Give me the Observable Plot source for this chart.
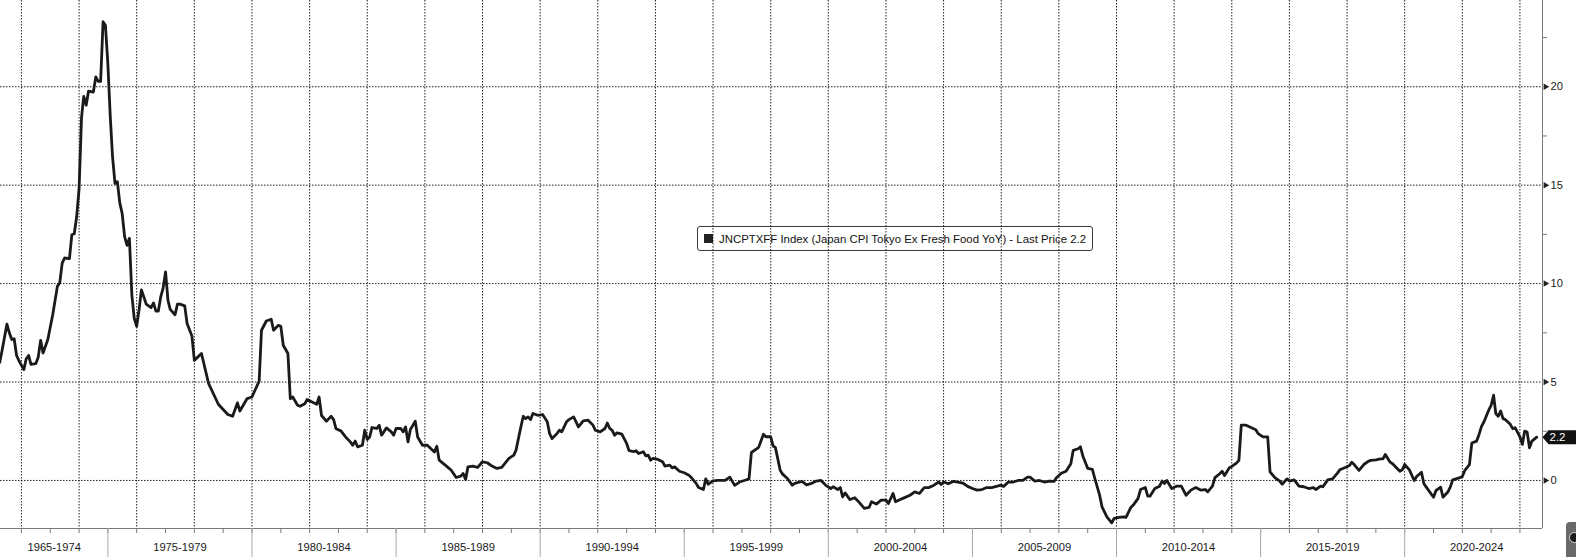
<!DOCTYPE html>
<html>
<head>
<meta charset="utf-8">
<script src="https://cdn.jsdelivr.net/npm/d3@7"></script>
<script src="https://cdn.jsdelivr.net/npm/@observablehq/plot@0.6"></script>
<style>
  html, body { margin: 0; padding: 0; background: #fff; }
  #wrap { position: relative; width: 1576px; height: 557px; overflow: hidden; font-family: "Liberation Sans", Arial, sans-serif; }
  #legend { position: absolute; left: 697px; top: 226px; width: 396px; height: 25px; box-sizing: border-box;
            border: 1px solid #3a3a3a; border-radius: 3px; display: flex; align-items: center;
            font-size: 11.4px; color: #111; white-space: nowrap; }
  #legend .sw { width: 9px; height: 9px; background: #222; margin: 0 6px 0 6px; flex: none; }
  #icon { position: absolute; left: 1566px; top: 522px; width: 16px; height: 40px; background: #6a6a6a; border-radius: 4px; }
  #icon::after { content: ""; position: absolute; left: 3px; top: 10px; width: 9px; height: 9px; border-radius: 50%; background: #1c1c1c; border: 1px solid #ddd; }
</style>
</head>
<body>
<div id="wrap"></div>
<script>
// ---- data: Japan CPI Tokyo ex fresh food, YoY % (monthly observations) ----
const months = [
  "1971-03","1971-04","1971-06","1971-07","1971-08","1971-09","1971-10","1971-11",
  "1972-01","1972-02","1972-03","1972-04","1972-06","1972-07","1972-08","1972-09","1972-11","1972-12",
  "1973-01","1973-03","1973-04","1973-05","1973-06","1973-08","1973-09","1973-10","1973-11","1973-12",
  "1974-01","1974-02","1974-03","1974-04","1974-06","1974-07","1974-08","1974-09","1974-10","1974-11","1974-12",
  "1975-01","1975-02","1975-03","1975-04","1975-05","1975-06","1975-07","1975-08","1975-09","1975-10","1975-11","1975-12",
  "1976-01","1976-02","1976-03","1976-04","1976-06","1976-07","1976-08","1976-09","1976-10","1976-11","1976-12",
  "1977-01","1977-02","1977-04","1977-05","1977-06","1977-08","1977-09","1977-11","1977-12",
  "1978-03","1978-06","1978-10",
  "1979-02","1979-04","1979-06","1979-07","1979-10","1979-12",
  "1980-03","1980-04","1980-06","1980-08","1980-09","1980-11","1980-12",
  "1981-01","1981-03","1981-04","1981-05","1981-07","1981-08","1981-10","1981-11",
  "1982-01","1982-03","1982-04","1982-05","1982-07","1982-09","1982-10","1982-11",
  "1983-01","1983-03","1983-05","1983-06","1983-07","1983-08","1983-10","1983-11","1983-12",
  "1984-01","1984-02","1984-04","1984-05","1984-06","1984-08","1984-10","1984-11","1984-12",
  "1985-02","1985-03","1985-04","1985-05","1985-06","1985-07","1985-08","1985-09","1985-11",
  "1986-01","1986-04","1986-05","1986-06","1986-09","1986-11",
  "1987-01","1987-03","1987-04","1987-05","1987-06","1987-08","1987-10","1987-12",
  "1988-02","1988-04","1988-06","1988-08","1988-11",
  "1989-01","1989-02","1989-04","1989-05","1989-06","1989-07","1989-08","1989-09","1989-11",
  "1990-01","1990-03","1990-04","1990-05","1990-07","1990-08","1990-09","1990-11","1990-12",
  "1991-02","1991-03","1991-04","1991-06","1991-08","1991-10","1991-11",
  "1992-01","1992-03","1992-04","1992-05","1992-06","1992-07","1992-08","1992-10","1992-12",
  "1993-01","1993-03","1993-04","1993-05","1993-07","1993-08","1993-09","1993-10","1993-11",
  "1994-01","1994-03","1994-04","1994-06","1994-07","1994-08","1994-10","1994-12",
  "1995-02","1995-03","1995-05","1995-06","1995-08","1995-09","1995-10","1995-12",
  "1996-02","1996-05","1996-07","1996-09","1996-11",
  "1997-01","1997-03","1997-04","1997-06","1997-07","1997-09","1997-10","1997-11","1997-12",
  "1998-01","1998-02","1998-04","1998-05","1998-07","1998-09","1998-10",
  "1999-01","1999-03","1999-05","1999-07","1999-09","1999-11",
  "2000-01","2000-02","2000-04","2000-05","2000-06","2000-07","2000-09","2000-11",
  "2001-01","2001-03","2001-05","2001-06","2001-08","2001-10","2001-12",
  "2002-01","2002-03","2002-04","2002-06","2002-08","2002-10","2002-12",
  "2003-02","2003-04","2003-06","2003-08","2003-10","2003-11","2003-12",
  "2004-02","2004-04","2004-06","2004-08","2004-10","2004-12",
  "2005-02","2005-04","2005-06","2005-08","2005-10","2005-12",
  "2006-01","2006-03","2006-05","2006-07","2006-09","2006-11","2006-12",
  "2007-02","2007-04","2007-06","2007-08","2007-10","2007-11",
  "2008-01","2008-03","2008-05","2008-06","2008-08","2008-09","2008-10","2008-12",
  "2009-02","2009-03","2009-05","2009-06","2009-08","2009-10","2009-11",
  "2010-01","2010-03","2010-04","2010-06","2010-07","2010-09","2010-10","2010-12",
  "2011-01","2011-02","2011-04","2011-06","2011-07","2011-08","2011-09","2011-11",
  "2012-01","2012-03","2012-05","2012-07","2012-09","2012-11",
  "2013-01","2013-02","2013-04","2013-05","2013-07","2013-08","2013-09","2013-11","2013-12",
  "2014-02","2014-03","2014-04","2014-06","2014-08","2014-10","2014-11",
  "2015-01","2015-03","2015-04","2015-06","2015-08","2015-09","2015-11","2015-12",
  "2016-02","2016-04","2016-06","2016-08","2016-10","2016-11",
  "2017-01","2017-02","2017-04","2017-06","2017-08","2017-09","2017-11",
  "2018-01","2018-02","2018-03","2018-05","2018-07","2018-09","2018-10","2018-12",
  "2019-02","2019-03","2019-04","2019-06","2019-07","2019-10","2019-11","2019-12",
  "2020-02","2020-04","2020-05","2020-07","2020-08","2020-09","2020-12",
  "2021-01","2021-03","2021-04","2021-06","2021-07","2021-08","2021-11","2021-12",
  "2022-01","2022-03","2022-04","2022-06","2022-07","2022-08","2022-09","2022-11","2022-12",
  "2023-01","2023-02","2023-03","2023-04","2023-05","2023-06","2023-08","2023-09","2023-10","2023-12",
  "2024-01","2024-02","2024-03","2024-04","2024-05","2024-07"
];
const cpi = [
  5.99,6.6,7.94,7.5,7.16,7.2,6.35,6.08,
  5.63,6.17,6.35,5.9,5.93,6.26,7.12,6.47,7.16,7.79,
  8.42,9.86,10.04,11.04,11.3,11.27,12.48,12.53,13.38,14.82,
  18.43,19.51,19.06,19.78,19.73,20.5,20.27,20.27,23.3,23.12,21.14,
  18.43,16.45,15.09,15.18,14.1,13.56,12.39,11.94,12.3,9.41,8.24,7.83,
  8.69,9.68,9.32,8.96,8.78,9.02,8.6,8.6,9.32,9.77,10.59,
  9.14,8.69,8.42,8.96,8.96,8.87,7.97,7.34,6.1,
  6.45,4.92,3.87,
  3.35,3.26,3.94,3.53,4.16,4.24,
  5.04,7.63,8.1,8.19,7.63,7.88,7.83,
  6.87,6.45,4.16,4.24,3.82,3.77,3.9,4.11,
  3.99,3.87,4.24,3.3,3.01,3.26,3.09,2.63,
  2.52,2.21,1.96,1.79,2.0,1.71,1.79,2.55,2.08,
  2.21,2.69,2.64,2.8,2.3,2.67,2.47,2.3,2.64,
  2.64,2.47,2.72,1.96,2.59,2.8,3.01,2.21,1.79,
  1.79,1.45,1.74,1.03,0.73,0.52,
  0.15,0.22,0.35,0.05,0.69,0.73,0.66,0.95,
  0.9,0.73,0.61,0.66,1.12,
  1.29,1.54,2.72,3.26,3.14,3.23,3.09,3.4,3.31,
  3.35,2.98,2.38,2.13,2.38,2.55,2.47,2.98,3.09,
  3.23,2.98,2.72,3.03,3.06,2.81,2.55,
  2.47,2.64,2.92,2.64,2.55,2.3,2.42,2.35,1.88,
  1.51,1.46,1.51,1.37,1.46,1.25,1.29,1.03,1.12,
  1.07,0.95,0.73,0.78,0.64,0.69,0.47,0.39,
  0.27,0.15,-0.15,-0.36,-0.46,0.08,-0.19,-0.02,
  0.0,0.0,0.17,-0.25,-0.08,
  0.0,0.08,1.42,1.59,1.68,2.35,2.22,2.22,2.21,
  1.75,1.68,0.52,0.32,0.1,-0.24,-0.15,
  -0.05,-0.22,-0.15,-0.03,0.0,-0.25,
  -0.41,-0.32,-0.46,-0.36,-0.83,-0.63,-0.97,-0.88,
  -1.14,-1.42,-1.37,-1.08,-1.2,-1.0,-1.0,
  -1.17,-0.66,-1.08,-0.97,-0.86,-0.75,-0.58,
  -0.66,-0.36,-0.36,-0.24,-0.08,-0.2,-0.08,
  -0.17,-0.05,-0.08,-0.13,-0.3,-0.41,
  -0.49,-0.46,-0.36,-0.36,-0.3,-0.24,
  -0.3,-0.08,-0.08,0.0,0.0,0.17,0.17,
  -0.03,0.0,-0.08,-0.03,-0.05,0.14,
  0.37,0.47,0.85,1.53,1.61,1.71,1.23,0.61,
  0.56,0.1,-0.75,-1.34,-1.85,-2.15,-1.93,
  -1.88,-1.85,-1.88,-1.37,-1.25,-0.91,-0.46,-0.36,
  -0.8,-0.8,-0.41,-0.29,-0.03,-0.15,0.0,-0.41,
  -0.29,-0.29,-0.75,-0.49,-0.36,-0.49,
  -0.46,-0.58,-0.29,0.14,0.34,0.47,0.25,0.65,0.71,
  0.88,1.02,2.81,2.81,2.69,2.58,2.38,
  2.21,2.21,0.44,0.14,-0.03,-0.19,0.08,-0.03,
  0.03,-0.29,-0.32,-0.41,-0.36,-0.46,
  -0.29,-0.32,0.03,0.08,0.37,0.54,0.65,
  0.76,0.93,0.81,0.51,0.81,0.98,1.02,1.05,
  1.1,1.1,1.32,0.93,0.85,0.47,0.54,0.81,
  0.54,0.0,0.2,0.42,-0.17,-0.34,-0.85,
  -0.51,-0.34,-0.85,-0.59,-0.34,0.03,0.14,0.2,
  0.51,0.81,1.9,2.0,2.34,2.75,2.97,3.57,3.82,
  4.33,3.4,3.26,3.53,3.14,3.09,2.85,2.63,2.68,2.21,
  1.83,2.51,2.46,1.66,2.0,2.2
];
const periodStarts = [1965, 1975, 1980, 1985, 1990, 1995, 2000, 2005, 2010, 2015, 2020];
const periodLabels = ["1965-1974","1975-1979","1980-1984","1985-1989","1990-1994","1995-1999",
                      "2000-2004","2005-2009","2010-2014","2015-2019","2020-2024"];
const yMajor = [0, 5, 10, 15, 20];
const yMinor = [2.5, 7.5, 12.5, 17.5, 22.5];
const legendText = "JNCPTXFF Index (Japan CPI Tokyo Ex Fresh Food YoY) - Last Price";

// ---- build ----
if (months.length !== cpi.length) console.error("length mismatch", months.length, cpi.length);
const parseMonth = d3.utcParse("%Y-%m");
const utcYear = y => new Date(Date.UTC(y, 0, 1));
// each monthly observation is drawn at the end of its month
const data = months.map((m, i) => ({ date: d3.utcMonth.offset(parseMonth(m), 1), value: cpi[i] }));
const lastValue = cpi[cpi.length - 1];

const xDomain = [new Date(Date.UTC(1971, 3, 11)), new Date(Date.UTC(2024, 9, 13))];
const yDomain = [-2.44, 24.38];

const gridYears = d3.range(1972, 2025, 2).map(utcYear);
const yearTicks = d3.range(1972, 2025).map(utcYear);
const separators = periodStarts.slice(1).map(utcYear);
const periods = periodLabels.map((label, i) => {
  const s = utcYear(periodStarts[i]);
  const e = utcYear(i + 1 < periodStarts.length ? periodStarts[i + 1] : periodStarts[i] + 5);
  const s2 = s < xDomain[0] ? xDomain[0] : s;
  return { label, mid: new Date((+s2 + +e) / 2) };
});

const tagSymbol = {
  draw(ctx) {
    ctx.moveTo(0, 0); ctx.lineTo(6, -7); ctx.lineTo(40, -7);
    ctx.lineTo(40, 7); ctx.lineTo(6, 7); ctx.closePath();
  }
};

const grid = { stroke: "#222", strokeOpacity: 1, strokeWidth: 1, strokeDasharray: "1.5,1.5" };

const chart = Plot.plot({
  width: 1576,
  height: 557,
  marginLeft: 0, marginRight: 34, marginTop: 0, marginBottom: 29,
  style: { fontFamily: "'Liberation Sans', Arial, sans-serif", fontSize: "11px", color: "#1a1a1a", background: "#fff", overflow: "visible" },
  x: { type: "utc", domain: xDomain, label: null },
  y: { domain: yDomain, label: null },
  marks: [
    Plot.gridX(gridYears, grid),
    Plot.gridY(yMajor, grid),
    Plot.ruleY([yDomain[0]], { stroke: "#7a7a7a" }),
    Plot.ruleX([xDomain[1]], { stroke: "#7a7a7a" }),
    Plot.axisX(yearTicks, { tickSize: 5, tickFormat: () => "", stroke: "#7a7a7a", label: null }),
    Plot.axisX(separators, { tickSize: 29, tickFormat: () => "", stroke: "#a8a8a8", label: null }),
    Plot.text(periods, { x: "mid", text: "label", frameAnchor: "bottom", dy: 22, fill: "#1a1a1a", fontSize: 11.2 }),
    Plot.axisY(yMinor, { anchor: "right", tickSize: 4, tickFormat: () => "", stroke: "#7a7a7a", label: null }),
    Plot.axisY(yMajor, { anchor: "right", tickSize: 0, tickPadding: 8, fill: "#1a1a1a", label: null, fontSize: 11.2 }),
    Plot.dot(yMajor, { y: d => d, frameAnchor: "right", dx: 3, symbol: "triangle", rotate: 90, r: 2.4, fill: "#222" }),
    Plot.line(data, { x: "date", y: "value", stroke: "#1a1a1a", strokeWidth: 2.8, strokeLinejoin: "round", clip: true }),
    Plot.dot([lastValue], { y: d => d, frameAnchor: "right", dx: 0, symbol: tagSymbol, fill: "#111", stroke: "none" }),
    Plot.text([lastValue], { y: d => d, frameAnchor: "right", dx: 7, text: d => d.toFixed(1), textAnchor: "start", fill: "#fff", fontSize: 11.5 })
  ]
});

const wrap = document.getElementById("wrap");
wrap.appendChild(chart);

const legend = document.createElement("div");
legend.id = "legend";
legend.innerHTML = `<span class="sw"></span><span></span>`;
legend.lastChild.textContent = `${legendText} ${lastValue.toFixed(1)}`;
wrap.appendChild(legend);

const icon = document.createElement("div");
icon.id = "icon";
wrap.appendChild(icon);
</script>
</body>
</html>
